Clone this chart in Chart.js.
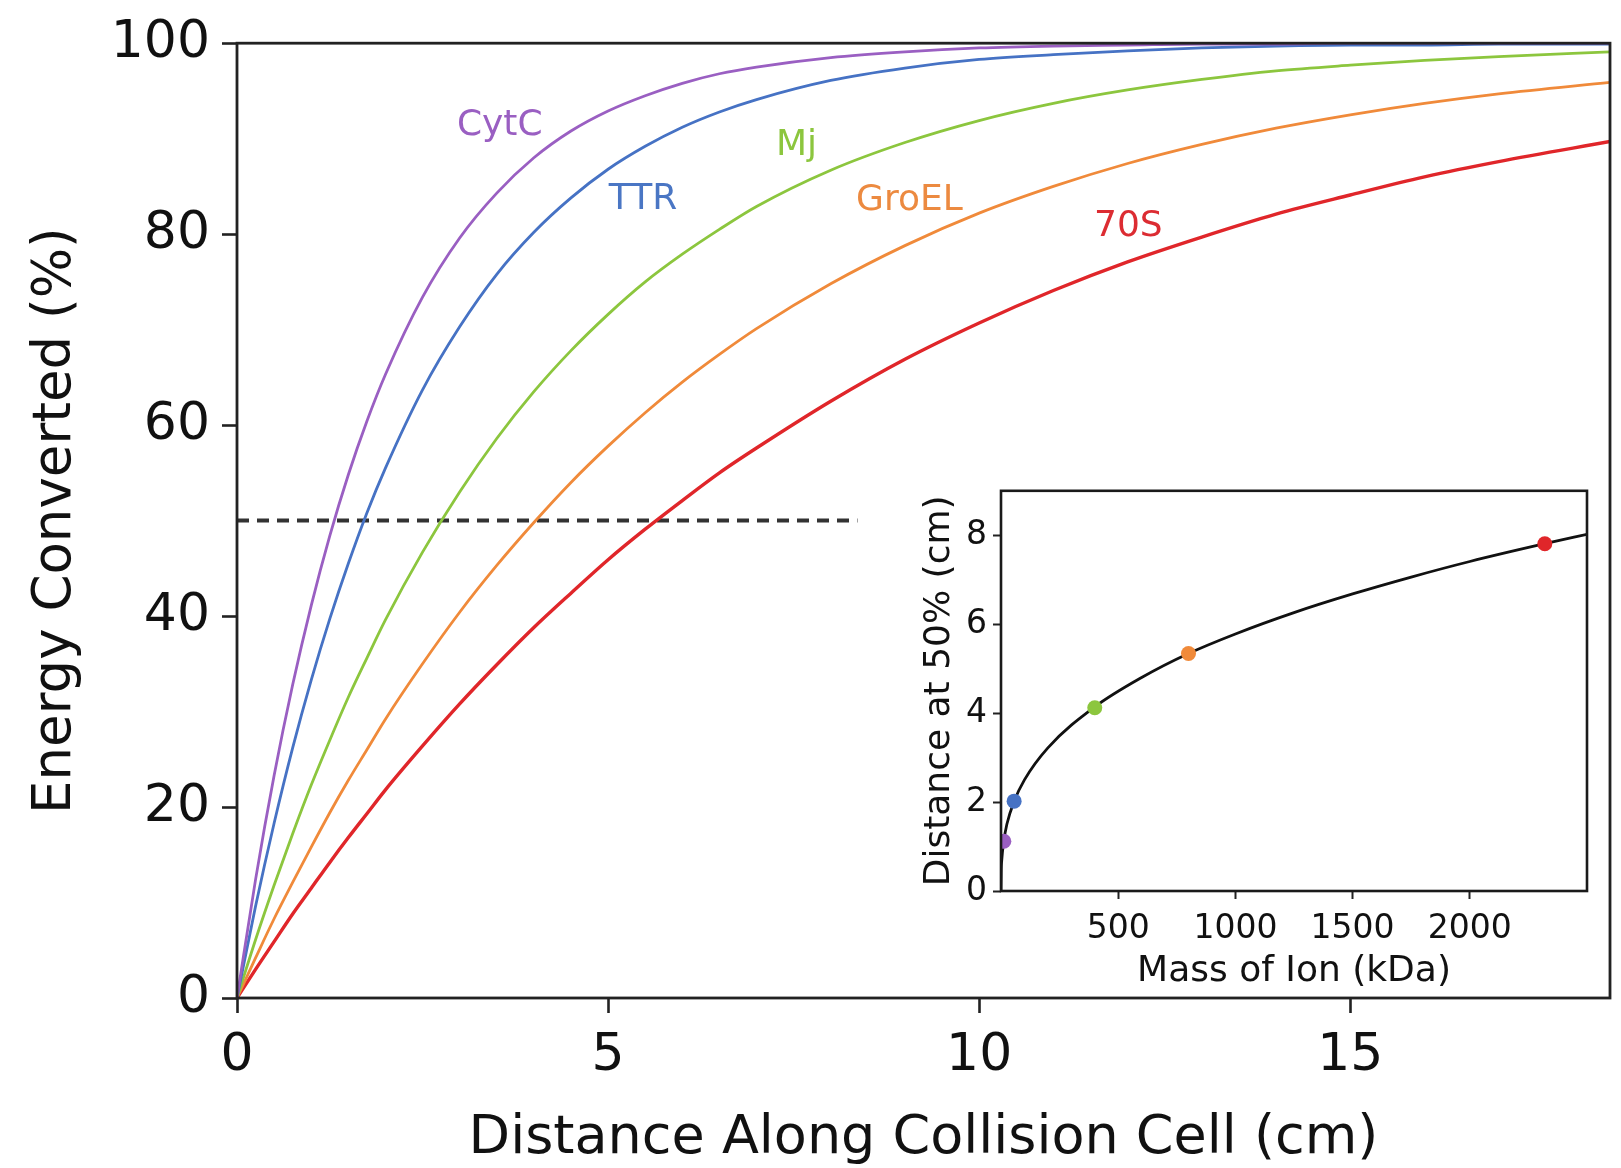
<!DOCTYPE html>
<html>
<head>
<meta charset="utf-8">
<script src="https://cdn.jsdelivr.net/npm/chart.js@4.4.1/dist/chart.umd.min.js"></script>
<style>
  html, body { margin: 0; padding: 0; background: #fff; }
  #wrap { position: relative; width: 1621px; height: 1168px; }
  #main { position: absolute; left: 0; top: 0; }
  #inset { position: absolute; left: 870px; top: 465px; }
</style>
</head>
<body>
<div id="wrap">
  <canvas id="main" width="1621" height="1168"></canvas>
  <canvas id="inset" width="740" height="530"></canvas>
</div>
<script>
// main plot: energy converted (%) vs distance along the cell (cm)
const distanceCm = [0, 0.25, 0.5, 0.75, 1, 1.25, 1.5, 1.75, 2, 2.5, 3, 3.5, 4, 4.5, 5, 5.5, 6, 6.5, 7, 8, 9, 10, 11, 12, 13, 14, 15, 16, 17, 18.5];
const cytC  = [0, 12.4, 23.3, 32.8, 41.1, 48.4, 54.8, 60.4, 65.3, 73.4, 79.6, 84.3, 88.0, 90.8, 92.9, 94.5, 95.8, 96.8, 97.5, 98.5, 99.1, 99.5, 99.7, 99.8, 99.9, 99.9, 100, 100, 100, 100];
const ttr   = [0, 9.6, 18.3, 26.2, 33.3, 39.7, 45.5, 50.8, 55.5, 63.7, 70.3, 75.8, 80.2, 83.8, 86.8, 89.2, 91.2, 92.8, 94.1, 96.1, 97.4, 98.3, 98.8, 99.2, 99.5, 99.7, 99.8, 99.8, 99.9, 99.9];
const mj    = [0, 6.1, 11.8, 17.2, 22.3, 27.0, 31.5, 35.6, 39.6, 46.7, 53.0, 58.6, 63.5, 67.8, 71.6, 75.0, 77.9, 80.5, 82.9, 86.7, 89.6, 91.9, 93.7, 95.1, 96.2, 97.1, 97.7, 98.2, 98.6, 99.1];
const groEL = [0, 4.2, 8.3, 12.1, 15.8, 19.4, 22.8, 26.0, 29.2, 35.0, 40.4, 45.3, 49.8, 54.0, 57.8, 61.3, 64.5, 67.4, 70.1, 74.8, 78.8, 82.2, 85.0, 87.4, 89.4, 91.1, 92.5, 93.7, 94.7, 95.9];
const r70S  = [0, 3.0, 5.9, 8.8, 11.5, 14.2, 16.8, 19.3, 21.8, 26.4, 30.8, 34.9, 38.8, 42.4, 45.9, 49.1, 52.1, 55.0, 57.6, 62.5, 66.9, 70.7, 74.1, 77.1, 79.7, 82.1, 84.1, 86.0, 87.6, 89.7];

// dashed 50% guide
const halfLineX = [0, 8.36];
const halfLineY = [50, 50];

const xTicks = [0, 5, 10, 15];
const yTicks = [0, 20, 40, 60, 80, 100];

// inset: distance at 50% vs ion mass
const ionMass = [12, 56, 400, 800, 2320];
const halfDistance = [1.12, 2.02, 4.12, 5.34, 7.81];
const fitMass = [0, 1, 3, 12, 25, 56, 100, 200, 400, 600, 800, 1000, 1250, 1500, 1750, 2000, 2320, 2500];
const fitDistance = [0, 0.46, 0.68, 1.12, 1.5, 2.02, 2.5, 3.22, 4.14, 4.8, 5.34, 5.78, 6.26, 6.68, 7.06, 7.41, 7.81, 8.02];
const insetXTicks = [500, 1000, 1500, 2000];
const insetYTicks = [0, 2, 4, 6, 8];

const names = ['CytC', 'TTR', 'Mj', 'GroEL', '70S'];
const colors = ['#9a5fc2', '#4672c4', '#8cc63e', '#f08a3a', '#e0262a'];
const series = [cytC, ttr, mj, groEL, r70S];

const FONT = '"DejaVu Sans", Verdana, sans-serif';

const pts = (xs, ys) => xs.map((v, i) => ({ x: v, y: ys[i] }));

const framePlugin = {
  id: 'frame',
  afterDatasetsDraw(chart, args, opts) {
    const { ctx, chartArea: a } = chart;
    ctx.save();
    ctx.lineWidth = opts.width;
    ctx.strokeStyle = opts.color;
    ctx.strokeRect(a.left, a.top, a.right - a.left, a.bottom - a.top);
    ctx.restore();
  }
};

const curveLabels = {
  id: 'curveLabels',
  afterDatasetsDraw(chart, args, opts) {
    if (!opts.items) return;
    const { ctx, scales: { x, y } } = chart;
    ctx.save();
    ctx.font = opts.font;
    ctx.textAlign = 'center';
    ctx.textBaseline = 'middle';
    opts.items.forEach(it => {
      ctx.fillStyle = it.color;
      ctx.fillText(it.text, x.getPixelForValue(it.x), y.getPixelForValue(it.y));
    });
    ctx.restore();
  }
};

const curveSets = series.map((s, i) => ({
  label: names[i],
  data: pts(distanceCm, s),
  borderColor: colors[i],
  borderWidth: i === 4 ? 3.4 : 2.8,
  pointRadius: 0,
  cubicInterpolationMode: 'monotone',
  fill: false
}));

new Chart(document.getElementById('main'), {
  type: 'line',
  data: {
    datasets: [
      ...curveSets,
      {
        label: '50%',
        data: pts(halfLineX, halfLineY),
        borderColor: '#333',
        borderWidth: 4,
        borderDash: [12, 8],
        pointRadius: 0
      }
    ]
  },
  options: {
    responsive: false,
    animation: false,
    layout: { padding: { left: 0, top: 37, right: 11, bottom: 0 } },
    plugins: {
      legend: { display: false },
      tooltip: { enabled: false },
      frame: { width: 2.8, color: '#222' },
      curveLabels: {
        font: '36px ' + FONT,
        items: [
          { text: 'CytC', x: 3.54, y: 91.4, color: '#9a5fc2' },
          { text: 'TTR', x: 5.47, y: 83.6, color: '#4a76c4' },
          { text: 'Mj', x: 7.54, y: 89.3, color: '#8cc63e' },
          { text: 'GroEL', x: 9.06, y: 83.5, color: '#ec8a40' },
          { text: '70S', x: 12.01, y: 80.8, color: '#dc2c32' }
        ]
      }
    },
    scales: {
      x: {
        type: 'linear',
        min: 0,
        max: 18.5,
        afterFit: s => { s.height = 170; },
        afterBuildTicks: s => { s.ticks = xTicks.map(v => ({ value: v })); },
        border: { display: false },
        grid: { display: true, drawOnChartArea: false, tickLength: 15, tickWidth: 2.6, tickColor: '#222' },
        ticks: { color: '#111', padding: 12, maxRotation: 0, font: { family: FONT, size: 52 } },
        title: {
          display: true,
          text: 'Distance Along Collision Cell (cm)',
          color: '#111',
          padding: { top: 0, bottom: -3 },
          font: { family: FONT, size: 54 }
        }
      },
      y: {
        type: 'linear',
        min: 0,
        max: 100,
        afterFit: s => { s.width = 237; },
        afterBuildTicks: s => { s.ticks = yTicks.map(v => ({ value: v })); },
        border: { display: false },
        grid: { display: true, drawOnChartArea: false, tickLength: 15, tickWidth: 2.6, tickColor: '#222' },
        ticks: { color: '#111', padding: 12, font: { family: FONT, size: 52 } },
        title: {
          display: true,
          text: 'Energy Converted (%)',
          color: '#111',
          padding: { top: 24, bottom: 0 },
          font: { family: FONT, size: 53 }
        }
      }
    }
  },
  plugins: [framePlugin, curveLabels]
});

const insetBg = {
  id: 'insetBg',
  beforeDraw(chart) {
    const { ctx, chartArea: a } = chart;
    ctx.save();
    ctx.fillStyle = '#fff';
    ctx.fillRect(a.left, a.top, a.right - a.left, a.bottom - a.top);
    ctx.restore();
  }
};

new Chart(document.getElementById('inset'), {
  type: 'line',
  data: {
    datasets: [
      {
        label: 'ions',
        data: pts(ionMass, halfDistance),
        showLine: false,
        pointRadius: 7.5,
        pointBorderWidth: 0,
        pointBackgroundColor: colors
      },
      {
        label: 'fit',
        data: pts(fitMass, fitDistance),
        borderColor: '#111',
        borderWidth: 2.8,
        pointRadius: 0,
        cubicInterpolationMode: 'monotone'
      }
    ]
  },
  options: {
    responsive: false,
    animation: false,
    layout: { padding: { left: 0, top: 18, right: 23, bottom: 0 } },
    plugins: {
      legend: { display: false },
      tooltip: { enabled: false },
      frame: { width: 2.6, color: '#1a1a1a' }
    },
    scales: {
      x: {
        type: 'linear',
        min: 0,
        max: 2500,
        afterFit: s => { s.height = 104; },
        afterBuildTicks: s => { s.ticks = insetXTicks.map(v => ({ value: v })); },
        border: { display: false },
        grid: { display: true, drawOnChartArea: false, tickLength: 8, tickWidth: 2, tickColor: '#222' },
        ticks: { color: '#111', padding: 11, maxRotation: 0, font: { family: FONT, size: 33 }, callback: v => String(v) },
        title: {
          display: true,
          text: 'Mass of Ion (kDa)',
          color: '#111',
          padding: { top: 0, bottom: 2 },
          font: { family: FONT, size: 36 }
        }
      },
      y: {
        type: 'linear',
        min: 0,
        max: 9,
        afterFit: s => { s.width = 131; },
        afterBuildTicks: s => { s.ticks = insetYTicks.map(v => ({ value: v })); },
        border: { display: false },
        grid: { display: true, drawOnChartArea: false, tickLength: 8, tickWidth: 2, tickColor: '#222' },
        ticks: { color: '#111', padding: 6, font: { family: FONT, size: 33 }, callback: v => String(v) },
        title: {
          display: true,
          text: 'Distance at 50% (cm)',
          color: '#111',
          padding: { top: 48, bottom: 0 },
          font: { family: FONT, size: 36 }
        }
      }
    }
  },
  plugins: [insetBg, framePlugin]
});
</script>
</body>
</html>
